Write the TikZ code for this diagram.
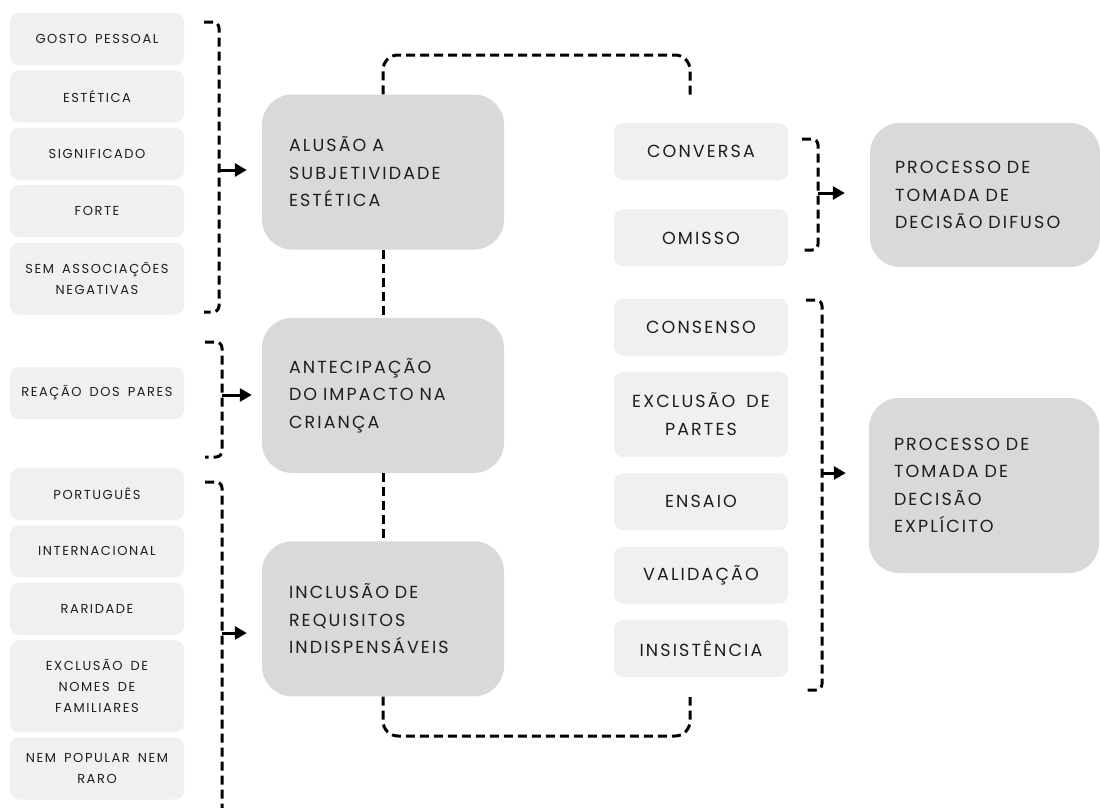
\documentclass[tikz,border=0pt]{standalone}
\usepackage{fontspec}
\setmainfont{Poppins}[LetterSpace=12, WordSpace=1.6]
\usetikzlibrary{positioning,arrows.meta}
\definecolor{boxlight}{HTML}{F0F0F0}
\definecolor{boxdark}{HTML}{D9D9D9}
\definecolor{ink}{HTML}{1E1E1E}

\begin{document}
\begin{tikzpicture}[%
    x=1pt, y=-1pt,              % one unit is one pixel, y runs downwards
    node distance=5pt,          % gap between stacked criteria
    ]
% -------------------------------------------------
% Box and line styles
\tikzset{
  item/.style={fill=boxlight, rounded corners=9pt, minimum width=174pt,
    minimum height=52pt, align=center, inner sep=2pt, text=ink,
    font=\fontsize{13}{21}\selectfont},
  mode/.style={item, font=\fontsize{17.5}{28}\selectfont, minimum height=57pt},
  topic/.style={fill=boxdark, rounded corners=30pt, minimum height=155pt,
    text width=188pt, inner xsep=27pt, align=left, text=ink,
    font=\fontsize{17.5}{27.5}\selectfont},
  result/.style={topic, text width=180pt, inner xsep=25pt},
  link/.style={draw, black, line width=3pt, dash pattern=on 9pt off 5pt},
  brace/.style={link, rounded corners=6pt},
  arr/.style={draw, black, line width=3pt,
    -{Triangle[length=12pt,width=13pt]}}
}
% -------------------------------------------------
\useasboundingbox (0,0) rectangle (1100,807);

% Left column: criteria
\node [item] at (97,39) (gosto) {GOSTO PESSOAL};
\node [item, below=of gosto] (estetica) {ESTÉTICA};
\node [item, below=of estetica] (signif) {SIGNIFICADO};
\node [item, below=of signif] (forte) {FORTE};
\node [item, below=of forte, minimum height=72pt] (semassoc) {SEM ASSOCIAÇÕES\\NEGATIVAS};

\node [item] at (97,393) (reacao) {REAÇÃO DOS PARES};

\node [item] at (97,494) (portugues) {PORTUGUÊS};
\node [item, below=of portugues] (internac) {INTERNACIONAL};
\node [item, below=of internac] (raridade) {RARIDADE};
\node [item, below=of raridade, minimum height=92pt] (exclfam) {EXCLUSÃO DE\\NOMES DE\\FAMILIARES};
\node [item, below=of exclfam, minimum height=62pt] (nempop) {NEM POPULAR NEM\\RARO};

% Middle column: themes
\node [topic] at (383,172) (alusao) {ALUSÃO A\\SUBJETIVIDADE\\ESTÉTICA};
\node [topic, below=68pt of alusao] (antecip) {ANTECIPAÇÃO\\DO IMPACTO NA\\CRIANÇA};
\node [topic, below=68pt of antecip] (inclusao) {INCLUSÃO DE\\REQUISITOS\\INDISPENSÁVEIS};

% Right column: modes of deciding
\node [mode] at (701,151.5) (conversa) {CONVERSA};
\node [mode, below=29pt of conversa] (omisso) {OMISSO};
\node [mode] at (701,327) (consenso) {CONSENSO};
\node [mode, below=16pt of consenso, minimum height=85pt] (exclpartes) {EXCLUSÃO DE\\PARTES};
\node [mode, below=16pt of exclpartes] (ensaio) {ENSAIO};
\node [mode, below=16pt of ensaio] (validacao) {VALIDAÇÃO};
\node [mode, below=16pt of validacao] (insistencia) {INSISTÊNCIA};

% Outcomes
\node [result, minimum height=144pt] at (985,195) (difuso) {PROCESSO DE\\TOMADA DE\\DECISÃO DIFUSO};
\node [result, minimum height=175pt] at (984,485.5) (explicito) {PROCESSO DE\\TOMADA DE\\DECISÃO\\EXPLÍCITO};

% -------------------------------------------------
% Brackets and their arrows
\draw [brace] (204,22) -- (219,22) -- (219,312) -- (204,312);
\coordinate (g1) at (219,170);
\draw [arr, shorten >=15pt] (g1) -- (g1 -| alusao.west);

\draw [brace] (205,342) -- (222,342) -- (222,457) -- (205,457);
\coordinate (g2) at (222,395);
\draw [arr, shorten >=10pt] (g2) -- (g2 -| antecip.west);

\draw [brace] (205,482) -- (222,482) -- (222,812);
\coordinate (g3) at (222,633);
\draw [arr, shorten >=15pt] (g3) -- (g3 -| inclusao.west);

\draw [brace] (802,139) -- (818,139) -- (818,250) -- (802,250);
\coordinate (g4) at (818,193);
\draw [arr, shorten >=25pt] (g4) -- (g4 -| difuso.west);

\draw [brace] (806,300) -- (822,300) -- (822,690) -- (806,690);
\coordinate (g5) at (822,473);
\draw [arr, shorten >=23pt] (g5) -- (g5 -| explicito.west);

% Links between themes
\draw [link] (alusao) -- (antecip);
\draw [link] (antecip) -- (inclusao);

\coordinate (topmid) at (690,55);
\coordinate (topend) at (690,95);
\draw [link, rounded corners=15pt] (alusao.north) |- (topmid) -- (topend);

\coordinate (botmid) at (690,736);
\coordinate (botend) at (690,697);
\draw [link, rounded corners=15pt] (inclusao.south) |- (botmid) -- (botend);
\end{tikzpicture}
\end{document}
